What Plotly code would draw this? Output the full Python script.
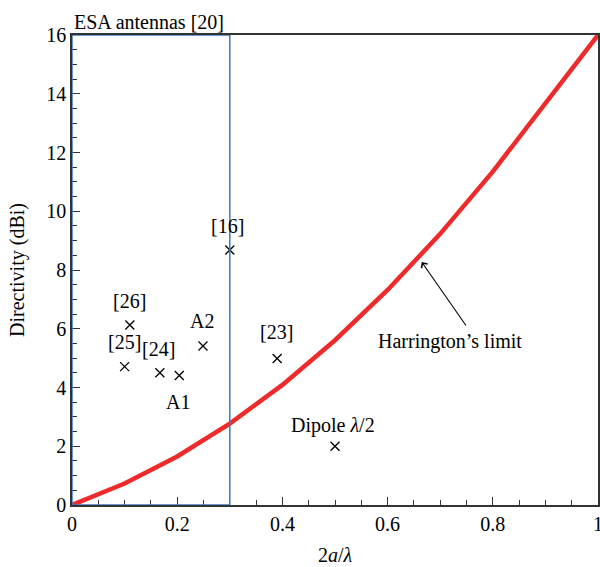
import plotly.graph_objects as go

# Harrington's limit curve
limit_x = [0.0, 0.1, 0.2, 0.3, 0.4, 0.5, 0.6, 0.7, 0.8, 0.9, 1.0]
limit_y = [0.0, 0.73, 1.65, 2.77, 4.09, 5.61, 7.32, 9.23, 11.35, 13.65, 16.0]

# Antenna points
pt_labels = ["[16]", "[26]", "[25]", "[24]", "A1", "A2", "[23]", "Dipole <i>λ</i>/2"]
pt_x = [0.30, 0.11, 0.10, 0.167, 0.204, 0.249, 0.39, 0.50]
pt_y = [8.68, 6.13, 4.71, 4.50, 4.41, 5.41, 4.99, 2.0]
# label anchor positions
lab_x = [0.296, 0.11, 0.099, 0.165, 0.201, 0.247, 0.388, 0.496]
lab_y = [9.5, 6.95, 5.55, 5.3, 3.52, 6.25, 5.9, 2.7]

esa_limit = 0.3
font_family = "Liberation Serif"
fs = 20

fig = go.Figure()
fig.add_trace(go.Scatter(x=limit_x, y=limit_y, mode="lines",
                         line=dict(color="#ee2a2a", width=4.5), showlegend=False))
fig.add_trace(go.Scatter(x=pt_x, y=pt_y, mode="markers",
                         marker=dict(symbol="x-thin", size=9, line=dict(color="black", width=1.3)),
                         showlegend=False))

for t, x, y in zip(pt_labels, lab_x, lab_y):
    fig.add_annotation(x=x, y=y, text=t, showarrow=False, xref="x", yref="y",
                       font=dict(family=font_family, size=fs, color="black"))

fig.add_annotation(x=0.665, y=8.27, ax=0.751, ay=6.06, xref="x", yref="y",
                   axref="x", ayref="y", text="", showarrow=True,
                   arrowhead=4, arrowsize=1.3, arrowwidth=1.1, arrowcolor="black")
fig.add_annotation(x=0.719, y=5.55, text="Harrington’s limit", showarrow=False,
                   font=dict(family=font_family, size=fs, color="black"))
fig.add_annotation(x=0.0, y=16, xref="x", yref="y", yanchor="bottom", xanchor="left",
                   yshift=0, text="ESA antennas [20]", showarrow=False,
                   font=dict(family=font_family, size=fs, color="black"))

fig.add_shape(type="rect", x0=0, x1=esa_limit, y0=0, y1=16, xref="x", yref="y",
              line=dict(color="#3b7bbf", width=1.5), layer="above")

fig.update_layout(
    width=600, height=567,
    margin=dict(l=72, r=2, t=35, b=62, autoexpand=False),
    plot_bgcolor="white", paper_bgcolor="white",
    font=dict(family=font_family, size=fs, color="black"),
    xaxis=dict(range=[0, 1], tickvals=[0, 0.2, 0.4, 0.6, 0.8, 1],
               ticktext=["0", "0.2", "0.4", "0.6", "0.8", "1"], automargin=False,
               ticklabeloverflow="allow",
               tickfont=dict(family=font_family, size=fs),
               ticks="inside", ticklen=8, tickcolor="#333", showgrid=False, zeroline=False,
               showline=True, linecolor="#333", linewidth=1.5, mirror=True,
               minor=dict(dtick=0.05, ticks="inside", ticklen=5, tickcolor="#333"),
               title=dict(text="2<i>a</i>/<i>λ</i>", font=dict(family=font_family, size=fs), standoff=14)),
    yaxis=dict(range=[0, 16], dtick=2, ticks="inside", ticklen=8, tickcolor="#333",
               automargin=False, tickfont=dict(family=font_family, size=fs),
               ticklabeloverflow="allow",
               showgrid=False, zeroline=False,
               showline=True, linecolor="#333", linewidth=1.5, mirror=True,
               minor=dict(dtick=0.5, ticks="inside", ticklen=5, tickcolor="#333"),
               title=dict(text="Directivity (dBi)", font=dict(family=font_family, size=fs), standoff=16)),
)

fig.write_html("out.html", config={"displayModeBar": False},
               post_script="document.body.style.margin='0';document.body.style.overflow='hidden';")
